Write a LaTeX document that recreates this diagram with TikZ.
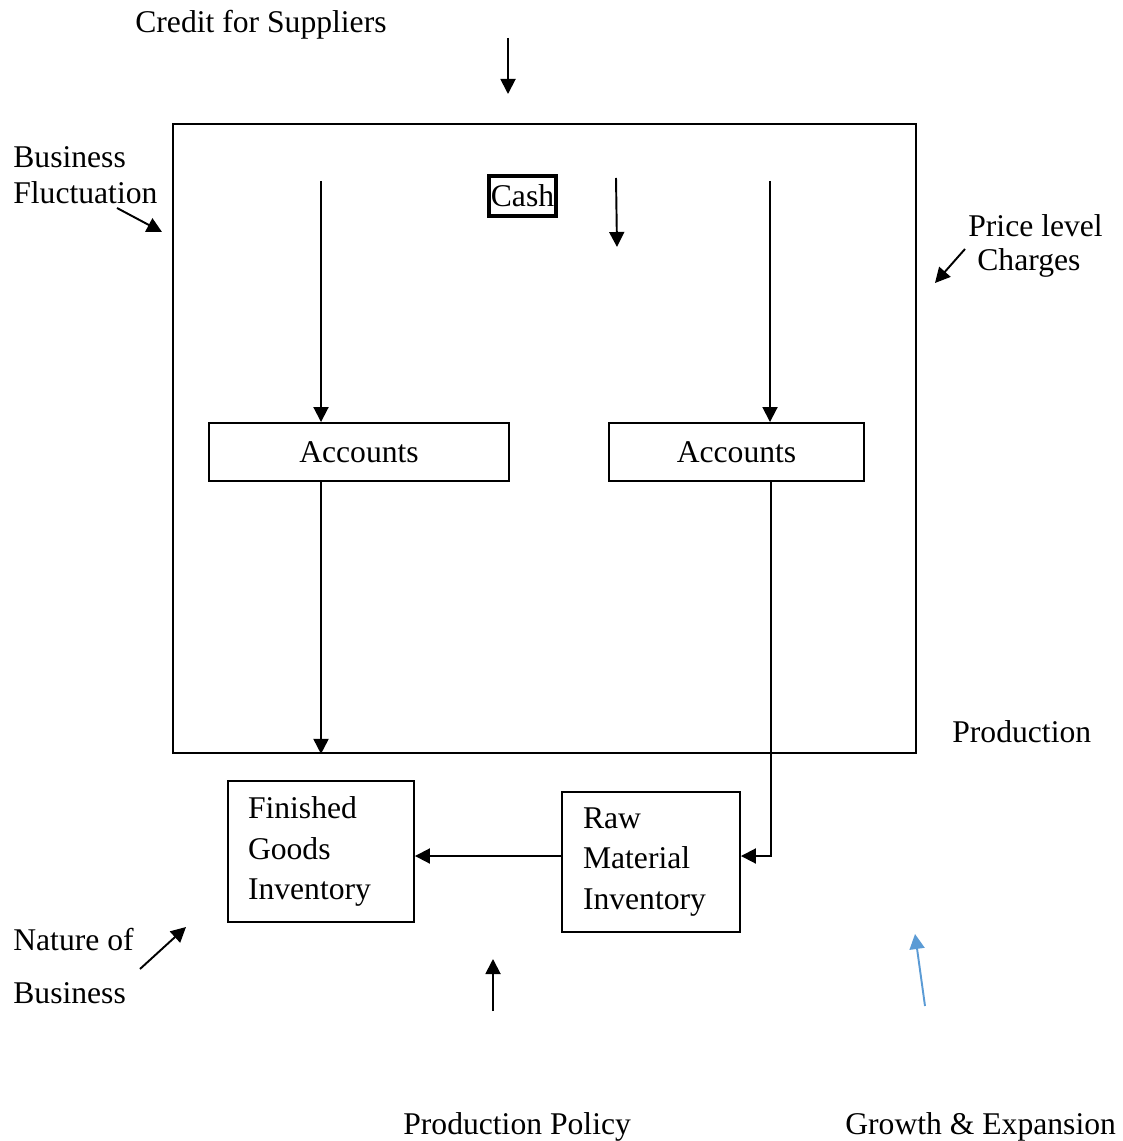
\documentclass[tikz,border=0pt]{standalone}
\usepackage{fontspec}
\setmainfont{Liberation Serif}
\usetikzlibrary{arrows.meta}
\definecolor{arrowblue}{HTML}{5B9BD5}
\begin{document}
\begin{tikzpicture}[x=0.02cm,y=-0.02cm,font=\fontsize{18}{23}\selectfont]
\tikzstyle{box}=[draw,line width=1.1pt,inner sep=0pt]
\tikzstyle{txt}=[inner sep=0pt,anchor=base west]
\tikzstyle{arr}=[line width=1.1pt,-{Triangle[length=0.3cm,width=0.3cm]}]
\useasboundingbox (0,0) rectangle (1122,1141);
\node[box,minimum width=14.86cm,minimum height=12.58cm] (frame) at (544.5,438.5) {};
\node[box,line width=2pt,inner xsep=1pt,minimum height=0.8cm] (cash) at (522.5,196) {Cash};
\node[box,minimum width=6cm,minimum height=1.16cm] (accL) at (359,452) {Accounts};
\node[box,minimum width=5.1cm,minimum height=1.16cm] (accR) at (736.5,452) {Accounts};
\node[box,align=left,text width=2.92cm,inner xsep=0.4cm,minimum height=2.82cm] (fin) at (321,851.5) {Finished\\Goods\\Inventory};
\node[box,align=left,text width=2.72cm,inner xsep=0.42cm,minimum height=2.8cm] (raw) at (651,862) {Raw\\Material\\Inventory};
\node[txt] (credit) at (135,33) {Credit for Suppliers};
\node[txt] (bus1) at (13,168) {Business};
\node[txt] (bus2) at (13,204) {Fluctuation};
\node[txt] (price1) at (968,237) {Price level};
\node[txt] (price2) at (977,271) {Charges};
\node[txt] (prod) at (952,742) {Production};
\node[txt] (nat1) at (13,950) {Nature of};
\node[txt] (nat2) at (13,1003) {Business};
\node[txt] (policy) at (403,1134) {Production Policy};
\node[txt] (growth) at (845,1134) {Growth \& Expansion};
\coordinate (c1) at (508,38);
\coordinate (c2) at (508,94);
\coordinate (f1) at (117,208);
\coordinate (f2) at (162,232);
\coordinate (p1) at (965,249);
\coordinate (p2) at (935,283);
\coordinate (k1) at (616,178);
\coordinate (k2) at (617,247);
\coordinate (sL) at (321,181);
\coordinate (sR) at (770,181);
\coordinate (k) at (771,856);
\coordinate (n1) at (140,969);
\coordinate (n2) at (186,927);
\coordinate (q1) at (493,1011);
\coordinate (q2) at (493,959);
\coordinate (g1) at (925,1006);
\coordinate (g2) at (915,934);
\draw[arr] (c1) -- (c2);
\draw[arr] (f1) -- (f2);
\draw[arr] (p1) -- (p2);
\draw[arr] (k1) -- (k2);
\draw[arr] (sL) -- (sL |- accL.north);
\draw[arr] (sR) -- (sR |- accR.north);
\draw[arr] (accL.south -| sL) -- (frame.south -| sL);
\draw[arr] (accR.south -| k) -- (k) -- (k -| raw.east);
\draw[arr] (k -| raw.west) -- (k -| fin.east);
\draw[arr] (n1) -- (n2);
\draw[arr] (q1) -- (q2);
\draw[arr,arrowblue] (g1) -- (g2);
\end{tikzpicture}
\end{document}
